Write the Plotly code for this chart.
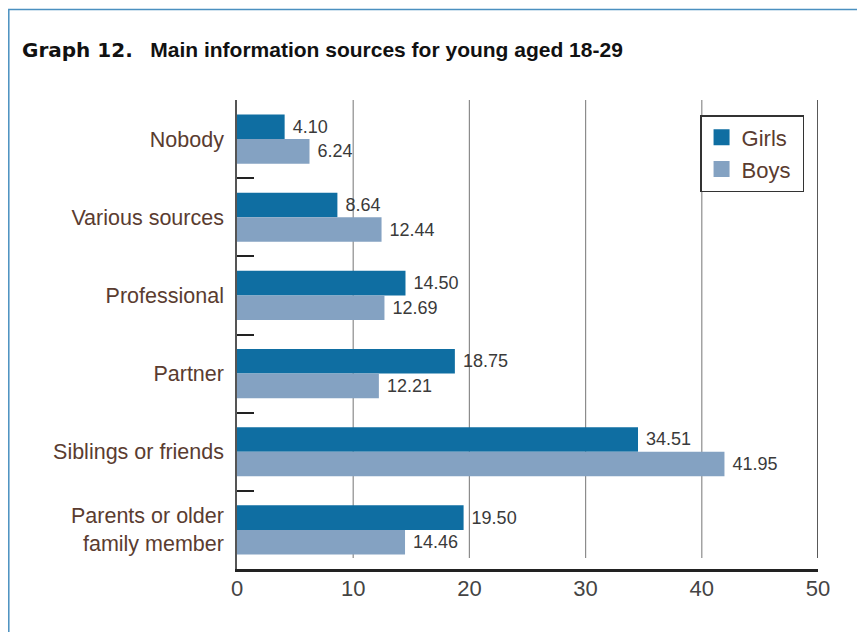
import plotly.graph_objects as go

categories = ["Nobody", "Various sources", "Professional", "Partner",
              "Siblings or friends", "Parents or older<br>family member"]
girls = [4.10, 8.64, 14.50, 18.75, 34.51, 19.50]
boys = [6.24, 12.44, 12.69, 12.21, 41.95, 14.46]
x_ticks = [0, 10, 20, 30, 40, 50]

GIRLS_C = "#0f6ea2"
BOYS_C = "#84a2c2"
FONT = "Liberation Sans, Arial, sans-serif"
W, H = 857, 624  # page body has an 8px margin
L, R, T, B = 229, 47, 92, 63
PW, PH = W - L - R, H - T - B

fig = go.Figure()
for name, vals, col in [("Girls", girls, GIRLS_C), ("Boys", boys, BOYS_C)]:
    fig.add_trace(go.Bar(
        y=categories, x=vals, name=name, orientation="h",
        legendgroup=name, showlegend=False,
        marker=dict(color=col, line=dict(width=0)),
        text=[f"{v:.2f}" for v in vals],
        texttemplate=" %{text}",
        textposition="outside",
        textfont=dict(size=18, color="#3a3a3a", family=FONT),
        cliponaxis=False,
    ))
# legend entries with large square swatches
for name, col in [("Girls", GIRLS_C), ("Boys", BOYS_C)]:
    fig.add_trace(go.Scatter(
        x=[None], y=[None], mode="markers", name=name + "&nbsp;",
        legendgroup=name,
        marker=dict(symbol="square", size=19, color=col),
        showlegend=True, hoverinfo="skip",
    ))

shapes = []
for xv in x_ticks[1:-1]:
    shapes.append(dict(type="line", xref="x", yref="paper", x0=xv, x1=xv,
                       y0=11 / PH, y1=1, line=dict(color="#8c8c8c", width=1.2),
                       layer="below"))
shapes.append(dict(type="line", xref="x", yref="paper", x0=50, x1=50,
                   y0=11 / PH, y1=1, line=dict(color="#222", width=1.5)))
# page frame
shapes.append(dict(type="rect", xref="paper", yref="paper",
                   x0=(-L + 0.8) / PW, x1=1.2, y0=-0.3, y1=1 + (T - 1.5) / PH,
                   line=dict(color="#4a90c0", width=1.5)))

fig.update_layout(
    width=W, height=H,
    margin=dict(l=L, r=R, t=T, b=B),
    paper_bgcolor="white", plot_bgcolor="white",
    barmode="group", bargap=0.37, bargroupgap=0,
    font=dict(family=FONT),
    showlegend=True,
    legend=dict(x=0.797, y=0.968, xanchor="left", yanchor="top",
                bordercolor="#333", borderwidth=1.5, bgcolor="white",
                font=dict(size=22, color="#5a3c30", family=FONT),
                traceorder="grouped", tracegroupgap=0,
                itemsizing="trace", itemwidth=30),
    title=dict(
        text="<span style='font-family:DejaVu Sans; font-weight:bold; font-size:20px'>Graph 12.</span>"
             "   <b>Main information sources for young aged 18-29</b>",
        x=14 / W, xanchor="left", y=1 - 42 / H, yanchor="middle",
        font=dict(size=21, color="#111", family=FONT),
    ),
    xaxis=dict(range=[0, 50], tickvals=x_ticks, showgrid=False,
               zeroline=False, showline=True, linecolor="#222", linewidth=2.5,
               ticks="", tickfont=dict(size=22, color="#444", family=FONT),
               ticklabelstandoff=-2, automargin=False),
    yaxis=dict(autorange="reversed", showgrid=False, zeroline=False,
               showline=True, linecolor="#555", linewidth=1.5,
               ticks="inside", tickson="boundaries", ticklen=17,
               tickcolor="#222", tickwidth=2,
               tickfont=dict(size=21.5, color="#5a3c30", family=FONT),
               ticklabelstandoff=7, automargin=False),
    shapes=shapes,
)

fig.write_html("out.html")
